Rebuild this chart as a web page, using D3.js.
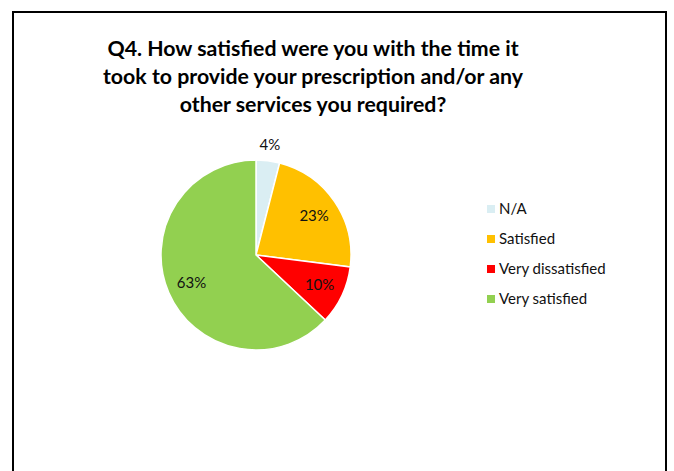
<!DOCTYPE html>
<html>
<head>
<meta charset="utf-8">
<script src="https://cdn.jsdelivr.net/npm/d3@7"></script>
<style>
  body { margin: 0; background: #fff; }
  svg { display: block; font-family: Lato, "Open Sans", sans-serif; }
</style>
</head>
<body>
<div id="chart"></div>
<script>
const categories = ['N/A', 'Satisfied', 'Very dissatisfied', 'Very satisfied'];
const values = [4, 23, 10, 63];
const colors = ['#DAEEF3', '#FFC000', '#FF0000', '#92D050'];
const titleLines = [
    'Q4. How satisfied were you with the time it',
    'took to provide your prescription and/or any',
    'other services you required?'
];

const width = 674;
const height = 471;

const svg = d3.select('#chart')
    .append('svg')
    .attr('width', width)
    .attr('height', height);

// chart frame (bottom edge runs off the page)
svg.append('path')
    .attr('d', `M13,${height + 5} V12 H666 V${height + 5}`)
    .attr('fill', 'none')
    .attr('stroke', '#000')
    .attr('stroke-width', 2);

const title = svg.append('text')
    .attr('text-anchor', 'middle')
    .attr('font-weight', 'bold')
    .attr('font-size', 21.3)
    .attr('fill', '#000');

title.selectAll('tspan')
    .data(titleLines)
    .join('tspan')
    .attr('x', 313)
    .attr('y', (d, i) => 56 + i * 28)
    .text(d => d);

const cx = 256, cy = 255, radius = 95;

const pie = d3.pie().sort(null).value(d => d.value);
const arcs = pie(categories.map((c, i) => ({ name: c, value: values[i], color: colors[i] })));

const arc = d3.arc().innerRadius(0).outerRadius(radius);
const labelArc = d3.arc().innerRadius(radius * 0.74).outerRadius(radius * 0.74);
const outerLabelArc = d3.arc().innerRadius(radius + 16).outerRadius(radius + 16);

const g = svg.append('g')
    .attr('transform', `translate(${cx},${cy})`);

g.selectAll('path')
    .data(arcs)
    .join('path')
    .attr('d', arc)
    .attr('fill', d => d.data.color)
    .attr('stroke', '#fff')
    .attr('stroke-width', 1.5);

g.selectAll('text')
    .data(arcs)
    .join('text')
    .attr('transform', d => {
        const p = d.data.value < 5 ? outerLabelArc.centroid(d) : labelArc.centroid(d);
        return `translate(${p[0]},${p[1]})`;
    })
    .attr('dy', '0.35em')
    .attr('text-anchor', 'middle')
    .attr('font-size', 15)
    .attr('fill', '#111')
    .text(d => d.data.value + '%');

// legend
const legend = svg.append('g')
    .attr('transform', 'translate(487,209)');

const item = legend.selectAll('g')
    .data(categories)
    .join('g')
    .attr('transform', (d, i) => `translate(0,${i * 30})`);

item.append('rect')
    .attr('x', 0)
    .attr('y', -4)
    .attr('width', 8)
    .attr('height', 8)
    .attr('fill', (d, i) => colors[i]);

item.append('text')
    .attr('x', 12)
    .attr('y', 5)
    .attr('font-size', 15)
    .attr('fill', '#111')
    .text(d => d);
</script>
</body>
</html>
